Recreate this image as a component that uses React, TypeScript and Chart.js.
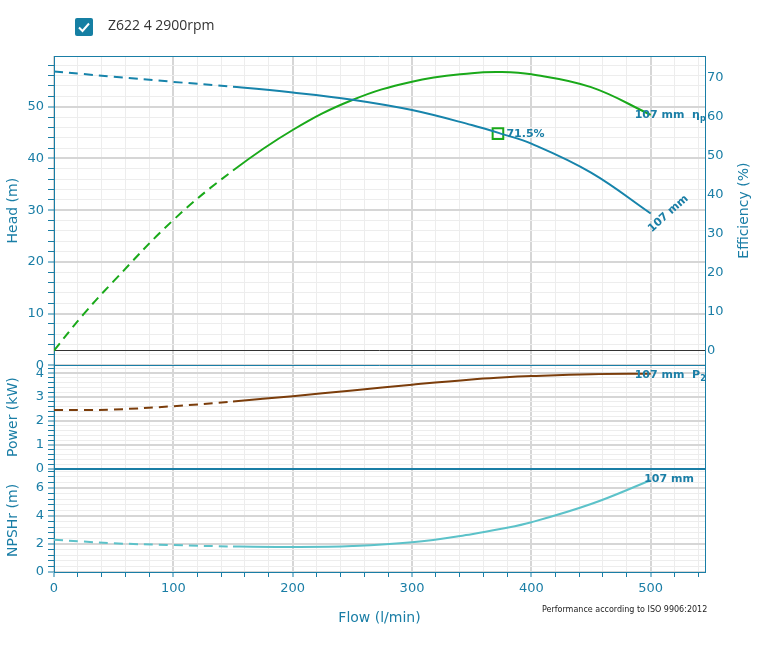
import React, { useEffect, useRef } from 'react';
import { Chart, registerables } from 'chart.js';

Chart.register(...registerables);

// ---- data ----
const flow = [0, 25, 50, 100, 150, 200, 250, 300, 350, 375, 400, 450, 500];
const headM = [56.8, 56.3, 55.8, 54.8, 53.85, 52.75, 51.35, 49.35, 46.45, 44.75, 42.85, 37.25, 29.35];
const efficiencyPct = [0, 9.4, 17.8, 33.5, 46.2, 56.6, 64.3, 69.0, 71.2, 71.5, 70.9, 67.6, 60.5];
const powerKW = [2.46, 2.46, 2.48, 2.62, 2.82, 3.04, 3.28, 3.52, 3.74, 3.82, 3.88, 3.96, 3.98];
const npshrM = [2.3, 2.17, 2.05, 1.92, 1.82, 1.78, 1.85, 2.12, 2.7, 3.08, 3.55, 4.85, 6.55];
const bepFlow = [372];
const bepHead = [44.8];
const bepLabel = '71.5%';
const curveLabel = '107 mm';
const seriesName = 'Z622 4 2900rpm';
const isoNote = 'Performance according to ISO 9906:2012';
const dashedUntil = 150;

// ---- styles ----
const TEAL = '#1a7ea6';
const HEAD_C = '#1784ab';
const EFF_C = '#1aa91a';
const POW_C = '#7b3d0b';
const NPSH_C = '#5cc2c9';
const GRID_MAJOR = '#d6d6d6';
const GRID_MINOR = '#ededed';
const FONT = 'DejaVu Sans';
const TICK_SIZE = 13;

const near = (v: number, m: number) => Math.abs(v / m - Math.round(v / m)) < 1e-6;
const pts = (ys: number[]) => flow.map((x, i) => ({ x, y: ys[i] }));
const dashSeg = {
  borderDash: (ctx: any) => (ctx.p1.parsed.x <= dashedUntil ? [9, 6] : undefined),
};

function leftAxis(title: string, max: number, step: number, major: number, weight: number, stackWeight: number) {
  return {
    type: 'linear',
    position: 'left',
    stack: 'panels',
    stackWeight,
    weight,
    min: 0,
    max,
    afterFit: (s: any) => {
      s.width = 54;
    },
    border: { display: true, color: TEAL, width: 1 },
    grid: {
      color: (c: any) => (c.tick && near(c.tick.value, major) ? GRID_MAJOR : GRID_MINOR),
      lineWidth: (c: any) => (c.tick && near(c.tick.value, major) ? 2 : 1),
      tickColor: TEAL,
      tickLength: 6,
      tickWidth: 1,
    },
    ticks: {
      stepSize: step,
      autoSkip: false,
      includeBounds: false,
      padding: 4,
      color: TEAL,
      font: { family: FONT, size: TICK_SIZE },
      callback: (v: number) => (near(v, major) ? String(Math.round(v)) : ''),
    },
    title: {
      display: true,
      text: title,
      color: TEAL,
      font: { family: FONT, size: 14 },
      padding: { top: 5, bottom: 0 },
    },
  };
}

function rightDummy(weight: number, stackWeight: number) {
  return {
    type: 'linear',
    position: 'right',
    stack: 'panels',
    stackWeight,
    weight,
    min: 0,
    max: 1,
    afterFit: (s: any) => {
      s.width = 64;
    },
    border: { display: true, color: TEAL, width: 1 },
    grid: { display: false },
    ticks: { display: false },
  };
}

const overlay = {
  id: 'pumpOverlay',
  beforeDatasetsDraw(chart: any) {
    const { ctx, chartArea: a, scales } = chart;
    ctx.save();
    ctx.strokeStyle = TEAL;
    const hline = (y: number, w: number) => {
      ctx.lineWidth = w;
      ctx.beginPath();
      ctx.moveTo(a.left, y);
      ctx.lineTo(a.right, y);
      ctx.stroke();
    };
    hline(Math.round(scales.head.top) + 0.5, 1);
    hline(Math.round(scales.head.bottom) + 0.5, 1);
    hline(Math.round(scales.power.bottom), 2);
    ctx.restore();
  },
  afterDatasetsDraw(chart: any) {
    const { ctx, chartArea: a, scales } = chart;
    const last = flow.length - 1;
    const px = scales.x.getPixelForValue(flow[last]);
    ctx.save();
    ctx.beginPath();
    ctx.rect(a.left, a.top, a.right - a.left, a.bottom - a.top);
    ctx.clip();
    ctx.fillStyle = TEAL;
    ctx.textAlign = 'left';
    ctx.textBaseline = 'alphabetic';
    const main = `bold 11px "${FONT}"`;
    const small = `bold 8px "${FONT}"`;
    const withSub = (text: string, sub: string, x0: number, y0: number) => {
      ctx.font = main;
      ctx.fillText(text, x0, y0);
      const w = ctx.measureText(text).width;
      ctx.font = small;
      ctx.fillText(sub, x0 + w, y0 + 3);
    };
    const ey = scales.eff.getPixelForValue(efficiencyPct[last]);
    withSub(curveLabel + '  η', 'p', px - 16, ey + 3);
    const py = scales.power.getPixelForValue(powerKW[last]);
    withSub(curveLabel + '  P', '2', px - 16, py + 4.5);
    ctx.font = main;
    const ny = scales.npsh.getPixelForValue(npshrM[last]);
    ctx.fillText(curveLabel, px - 6.5, ny + 2);
    const hy = scales.head.getPixelForValue(headM[last]);
    ctx.save();
    ctx.translate(px + 1, hy + 19);
    ctx.rotate((-42 * Math.PI) / 180);
    ctx.fillText(curveLabel, 0, 0);
    ctx.restore();
    const bx = scales.x.getPixelForValue(bepFlow[0]);
    const by = scales.head.getPixelForValue(bepHead[0]);
    ctx.textBaseline = 'middle';
    ctx.fillText(bepLabel, bx + 8.5, by + 0.5);
    ctx.restore();

    // right axis title, reading bottom-to-top
    const eff = scales.eff;
    ctx.save();
    ctx.fillStyle = TEAL;
    ctx.font = `14px "${FONT}"`;
    ctx.textAlign = 'center';
    ctx.textBaseline = 'middle';
    ctx.translate(eff.right - 24.5, (eff.top + eff.bottom) / 2);
    ctx.rotate(-Math.PI / 2);
    ctx.fillText('Efficiency (%)', 0, 0);
    ctx.restore();
  },
};

export default function App() {
  const ref = useRef<HTMLCanvasElement | null>(null);

  useEffect(() => {
    if (!ref.current) return;
    const lineBase = {
      borderWidth: 2,
      pointRadius: 0,
      pointHoverRadius: 0,
      fill: false,
      tension: 0.4,
      segment: dashSeg,
    };
    const chart = new Chart(ref.current, {
      type: 'line',
      data: {
        datasets: [
          { ...lineBase, label: 'Head', data: pts(headM), yAxisID: 'head', borderColor: HEAD_C },
          { ...lineBase, label: 'Efficiency', data: pts(efficiencyPct), yAxisID: 'eff', borderColor: EFF_C },
          { ...lineBase, label: 'Power', data: pts(powerKW), yAxisID: 'power', borderColor: POW_C },
          { ...lineBase, label: 'NPSHr', data: pts(npshrM), yAxisID: 'npsh', borderColor: NPSH_C },
          {
            label: 'BEP',
            data: bepFlow.map((x, i) => ({ x, y: bepHead[i] })),
            yAxisID: 'head',
            showLine: false,
            pointStyle: 'rect',
            pointRadius: 7.5,
            pointHoverRadius: 7.5,
            pointBorderColor: EFF_C,
            pointBorderWidth: 2,
            pointBackgroundColor: 'rgba(0,0,0,0)',
            borderColor: EFF_C,
          },
        ],
      } as any,
      options: {
        responsive: false,
        animation: false,
        layout: { padding: { top: 56, left: 0, right: 0, bottom: 0 } },
        plugins: { legend: { display: false }, tooltip: { enabled: false } },
        scales: {
          x: {
            type: 'linear',
            position: 'bottom',
            min: 0,
            max: 545.5,
            afterFit: (s: any) => {
              s.height = 77;
            },
            border: { display: true, color: TEAL, width: 1 },
            grid: {
              color: (c: any) => (c.tick && near(c.tick.value, 100) ? GRID_MAJOR : GRID_MINOR),
              lineWidth: (c: any) => (c.tick && near(c.tick.value, 100) ? 2 : 1),
              tickColor: TEAL,
              tickLength: 5,
              tickWidth: 1,
            },
            ticks: {
              stepSize: 20,
              autoSkip: false,
              includeBounds: false,
              maxRotation: 0,
              padding: 4,
              color: TEAL,
              font: { family: FONT, size: TICK_SIZE },
              callback: (v: number) => (near(v, 100) ? String(Math.round(v)) : ''),
            },
            title: {
              display: true,
              text: 'Flow (l/min)',
              color: TEAL,
              font: { family: FONT, size: 14 },
              padding: { top: 0, bottom: 22.5 },
            },
          },
          head: leftAxis('Head (m)', 59.8, 2, 10, 3, 309),
          power: leftAxis('Power (kW)', 4.33, 0.2, 1, 2, 103.5),
          npsh: leftAxis('NPSHr (m)', 7.36, 0.4, 2, 1, 103),
          eff: {
            type: 'linear',
            position: 'right',
            stack: 'panels',
            stackWeight: 309,
            weight: 1,
            min: -3.8,
            max: 75.6,
            afterFit: (s: any) => {
              s.width = 64;
            },
            border: { display: true, color: TEAL, width: 1 },
            grid: {
              drawTicks: false,
              color: (c: any) => (c.tick && c.tick.value === 0 ? '#333333' : 'rgba(0,0,0,0)'),
              lineWidth: 1,
            },
            ticks: {
              stepSize: 10,
              autoSkip: false,
              includeBounds: false,
              padding: 2,
              color: TEAL,
              font: { family: FONT, size: TICK_SIZE },
              callback: (v: number) => (v >= 0 && near(v, 10) ? String(Math.round(v)) : ''),
            },
          },
          rp: rightDummy(2, 103.5),
          rn: rightDummy(3, 103),
        },
      } as any,
      plugins: [overlay],
    });
    return () => chart.destroy();
  }, []);

  return (
    <div style={{ position: 'absolute', left: 0, top: 0, width: 769, height: 649, background: '#fff' }}>
      <canvas ref={ref} width={769} height={649} style={{ position: 'absolute', left: 0, top: 0, display: 'block' }} />
      <div
        style={{
          position: 'absolute',
          left: 75,
          top: 18,
          width: 18,
          height: 18,
          background: '#157fa3',
          borderRadius: 2,
        }}
      >
        <svg width="18" height="18" style={{ display: 'block' }}>
          <polyline points="4,9.5 7.5,13 14,5.5" fill="none" stroke="#ffffff" strokeWidth="2" />
        </svg>
      </div>
      <div
        style={{
          position: 'absolute',
          left: 108,
          top: 15,
          fontFamily: '"Open Sans"',
          fontSize: 14,
          lineHeight: '20px',
          color: '#333',
          whiteSpace: 'nowrap',
        }}
      >
        {seriesName}
      </div>
      <div
        style={{
          position: 'absolute',
          left: 542,
          top: 605,
          fontFamily: '"DejaVu Sans"',
          fontSize: 8,
          lineHeight: '10px',
          color: '#222',
          whiteSpace: 'nowrap',
        }}
      >
        {isoNote}
      </div>
    </div>
  );
}
